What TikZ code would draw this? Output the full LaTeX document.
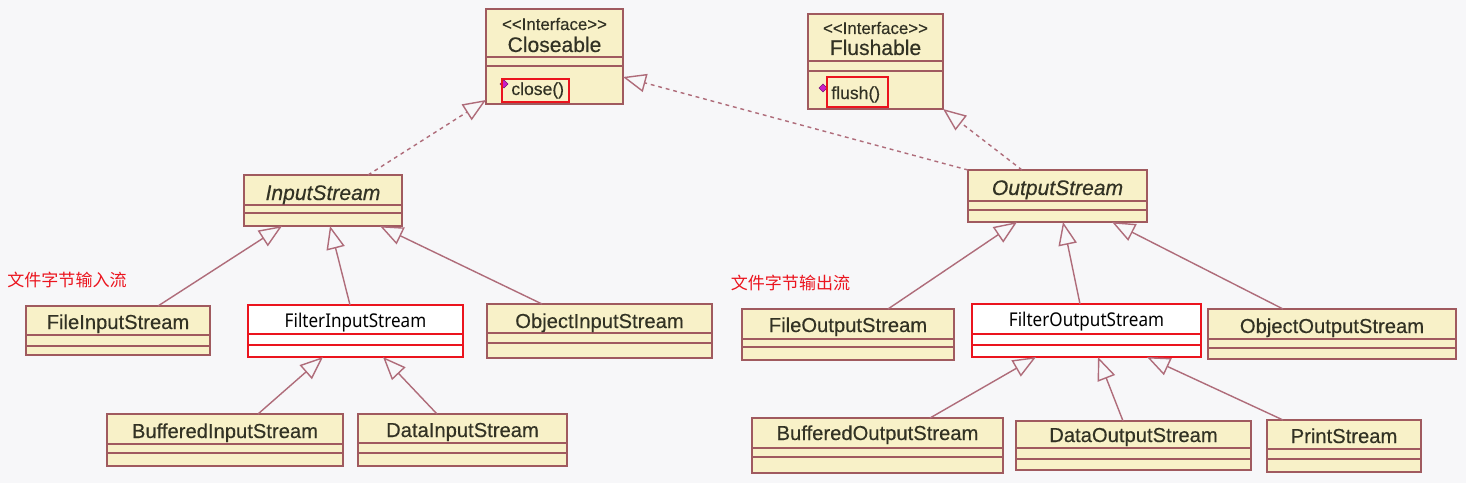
\documentclass[tikz,border=0pt]{standalone}
\usepackage{fontspec}
\setmainfont{Liberation Sans}[FakeBold=0.35]
\newfontfamily\filtfont[FakeStretch=0.9]{Noto Sans}
\newfontfamily\cjkfont{Noto Sans CJK SC}
\usetikzlibrary{arrows.meta,calc}
\definecolor{bgc}{RGB}{247,247,249}
\definecolor{boxfill}{RGB}{248,241,200}
\definecolor{boxline}{RGB}{160,90,95}
\definecolor{connc}{RGB}{175,108,122}
\definecolor{txtc}{RGB}{50,50,36}
\definecolor{redc}{RGB}{235,20,30}
\definecolor{magc}{RGB}{200,30,200}
% #1 name, #2 left, #3 top, #4 right, #5 bottom, #6 sep1, #7 sep2, #8 style
\newcommand{\umlcls}[8]{%
  \node[#8, minimum width={(#4-#2)*0.02cm}, minimum height={(#5-#3)*0.02cm}] (#1) at ({(#2+#4)/2},{(#3+#5)/2}) {};
  \draw[#8 sep] (#2,#6) -- (#4,#6) (#2,#7) -- (#4,#7);
}
\begin{document}
\begin{tikzpicture}[x=0.02cm,y=-0.02cm,
  classbox/.style={draw=boxline, fill=boxfill, line width=1pt, inner sep=0pt, outer sep=0pt},
  classbox sep/.style={draw=boxline, line width=1pt},
  filtbox/.style={draw=redc, fill=white, line width=0.65pt, inner sep=0pt, outer sep=0pt},
  filtbox sep/.style={draw=redc, line width=0.65pt},
  clstext/.style={text=txtc, inner sep=0pt, anchor=base, font=\fontsize{11.5}{13}\selectfont},
  abstext/.style={clstext, font=\fontsize{12}{13}\selectfont\itshape},
  filttext/.style={text=black, inner sep=0pt, anchor=base, font=\filtfont\fontsize{10.8}{12}\selectfont},
  stereo/.style={text=txtc, inner sep=0pt, anchor=base, font=\fontsize{9.6}{11}\selectfont},
  ifname/.style={text=txtc, inner sep=0pt, anchor=base, font=\fontsize{12}{13}\selectfont},
  optext/.style={text=txtc, inner sep=0pt, anchor=base west, font=\fontsize{10}{11}\selectfont},
  cjktext/.style={text=redc, inner sep=0pt, font=\cjkfont\fontsize{9.7}{11}\selectfont},
  gen/.style={draw=connc, line width=0.8pt, -{Triangle[open, length=0.46cm, width=0.37cm, line width=0.8pt]}},
  real/.style={gen, dash pattern=on 2.2pt off 2.2pt},
  redmark/.style={draw=redc, line width=0.9pt},
]
\fill[bgc] (0,0) rectangle (1466,483);
\useasboundingbox (0,0) rectangle (1466,483);

% interfaces
\umlcls{cl}{486}{9}{623}{104}{57}{66}{classbox}
\node[stereo] (cl-st) at (554.5,30) {<{}<Interface>{}>};
\node[ifname] (cl-n) at (554.5,52) {Closeable};
\node[optext] (cl-op) at (511,95) {close()};
\fill[magc, draw=magc!60!black, line width=0.3pt] (504,80) -- (508,84) -- (504,88) -- (500,84) -- cycle;
\draw[redmark] (502,79) rectangle (569,102);

\umlcls{fl}{808}{14}{943}{109}{61}{71}{classbox}
\node[stereo] (fl-st) at (875.5,34) {<{}<Interface>{}>};
\node[ifname] (fl-n) at (875.5,55) {Flushable};
\node[optext] (fl-op) at (831,99) {flush()};
\fill[magc, draw=magc!60!black, line width=0.3pt] (823,84) -- (827,88) -- (823,92) -- (819,88) -- cycle;
\draw[redmark] (827,77) rectangle (888,107);

% abstract classes
\umlcls{is}{244}{175}{402}{226}{205}{213}{classbox}
\node[abstext] (is-n) at (323,200) {InputStream};
\umlcls{os}{968}{170}{1147}{222}{201}{210}{classbox}
\node[abstext] (os-n) at (1057.5,195) {OutputStream};

% input side
\umlcls{fis}{26}{306}{210}{355}{335}{346}{classbox}
\node[clstext] (fis-n) at (118,329) {FileInputStream};
\umlcls{filis}{248}{305}{463}{357}{334}{345}{filtbox}
\node[filttext] (filis-n) at (355.5,327) {FilterInputStream};
\umlcls{ois}{487}{304}{712}{358}{333}{343}{classbox}
\node[clstext] (ois-n) at (599.5,328) {ObjectInputStream};
\umlcls{bis}{107}{414}{343}{466}{444}{453}{classbox}
\node[clstext] (bis-n) at (225,438) {BufferedInputStream};
\umlcls{dis}{358}{414}{567}{466}{443}{453}{classbox}
\node[clstext] (dis-n) at (462.5,437) {DataInputStream};

% output side
\umlcls{fos}{742}{309}{954}{360}{339}{347}{classbox}
\node[clstext] (fos-n) at (848,332) {FileOutputStream};
\umlcls{filos}{972}{304}{1201}{357}{334}{345}{filtbox}
\node[filttext] (filos-n) at (1086.5,326) {FilterOutputStream};
\umlcls{oos}{1208}{309}{1456}{359}{339}{348}{classbox}
\node[clstext] (oos-n) at (1332,333) {ObjectOutputStream};
\umlcls{bos}{752}{418}{1003}{473}{448}{457}{classbox}
\node[clstext] (bos-n) at (877.5,440) {BufferedOutputStream};
\umlcls{dos}{1016}{421}{1251}{470}{448}{459}{classbox}
\node[clstext] (dos-n) at (1133.5,442) {DataOutputStream};
\umlcls{ps}{1267}{420}{1421}{472}{449}{459}{classbox}
\node[clstext] (ps-n) at (1344,443) {PrintStream};

% labels
\node[cjktext] (lab-in) at (67,280) {文件字节输入流};
\node[cjktext] (lab-out) at (790.5,283) {文件字节输出流};

% realization (dashed)
\draw[real] (368,0 |- is.north) -- (cl.west |- 0,100);
\draw[real] (os.north west) -- (cl.east |- 0,77);
\draw[real] (1022,0 |- os.north) -- (fl.south east);

% generalization
\draw[gen] (158,0 |- fis.north) -- (282,0 |- is.south);
\draw[gen] (350,0 |- filis.north) -- (330,0 |- is.south);
\draw[gen] (542,0 |- ois.north) -- (380,0 |- is.south);
\draw[gen] (258,0 |- bis.north) -- (323,0 |- filis.south);
\draw[gen] (437,0 |- dis.north) -- (383,0 |- filis.south);

\draw[gen] (888,0 |- fos.north) -- (1017,0 |- os.south);
\draw[gen] (1080,0 |- filos.north) -- (1063,0 |- os.south);
\draw[gen] (1283,0 |- oos.north) -- (1112,0 |- os.south);
\draw[gen] (930,0 |- bos.north) -- (1036,0 |- filos.south);
\draw[gen] (1123,0 |- dos.north) -- (1098,0 |- filos.south);
\draw[gen] (1283,0 |- ps.north) -- (1147,0 |- filos.south);
\end{tikzpicture}
\end{document}
